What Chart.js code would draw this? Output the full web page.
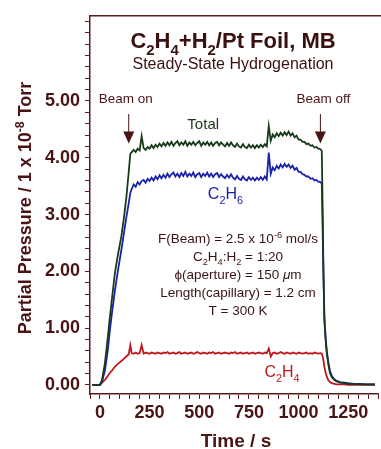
<!DOCTYPE html>
<html lang="en">
<head>
<meta charset="UTF-8">
<title>C2H4+H2/Pt Foil, MB</title>
<script src="https://cdn.jsdelivr.net/npm/chart.js"></script>
<style>
  html, body { margin: 0; padding: 0; background: #ffffff; }
  #wrap { width: 381px; height: 449px; }
</style>
</head>
<body>
<div id="wrap"><canvas id="chart" width="381" height="449"></canvas></div>
<script>
// time axis (s), shared by all three traces
const times = [
  -40, 0, 10, 25, 40, 50, 60, 75, 90, 108, 120, 133, 145, 153,
  160, 170, 180, 190, 200, 210, 220, 230, 240, 250,
  260, 270, 280, 290, 300, 310, 320, 330, 340, 350,
  360, 370, 380, 390, 400, 410, 420, 430, 440, 450,
  460, 470, 480, 490, 500, 510, 520, 530, 540, 550,
  560, 570, 580, 590, 600, 610, 620, 630, 640, 650,
  660, 670, 680, 690, 700, 710, 720, 730, 740, 750,
  760, 770, 780, 790, 800, 810, 820, 830, 840, 850,
  860, 870, 880, 890, 900, 910, 920, 930, 940, 950,
  960, 970, 980, 990, 1000, 1010, 1020, 1030, 1040, 1050,
  1060, 1070, 1080, 1090, 1100, 1110,
  1117, 1120, 1125, 1130, 1136, 1142, 1150, 1158, 1167, 1180, 1192, 1210, 1230, 1250, 1280, 1310, 1340, 1385
];

// Total (x 1e-8 Torr)
const total = [
  0.00, 0.00, 0.08, 0.38, 0.85, 1.19, 1.50, 1.96, 2.28, 2.62, 2.92, 3.30, 3.75, 4.07,
  4.10, 4.14, 4.10, 4.16, 4.13, 4.38, 4.17, 4.14, 4.19, 4.16,
  4.22, 4.17, 4.23, 4.19, 4.25, 4.20, 4.26, 4.21, 4.27, 4.22,
  4.28, 4.21, 4.26, 4.29, 4.22, 4.27, 4.23, 4.29, 4.21, 4.27,
  4.23, 4.28, 4.22, 4.26, 4.29, 4.21, 4.27, 4.23, 4.28, 4.22,
  4.27, 4.21, 4.26, 4.28, 4.22, 4.27, 4.23, 4.20, 4.26, 4.21,
  4.27, 4.22, 4.19, 4.25, 4.20, 4.18, 4.24, 4.19, 4.17, 4.23,
  4.18, 4.22, 4.17, 4.22, 4.18, 4.23, 4.19, 4.24, 4.20, 4.56,
  4.30, 4.41, 4.36, 4.43, 4.38, 4.44, 4.39, 4.45, 4.40, 4.46,
  4.39, 4.43, 4.36, 4.39, 4.32, 4.32, 4.28, 4.28, 4.24, 4.25,
  4.21, 4.22, 4.18, 4.19, 4.16, 4.15,
  4.12, 3.40, 2.10, 1.14, 0.80, 0.56, 0.36, 0.21, 0.14, 0.09, 0.06, 0.04, 0.03, 0.02, 0.02, 0.01, 0.01, 0.01
];

// C2H6
const ethane = [
  0.00, 0.00, 0.05, 0.25, 0.62, 0.96, 1.25, 1.65, 2.00, 2.38, 2.65, 2.95, 3.20, 3.38,
  3.45, 3.53, 3.49, 3.57, 3.53, 3.59, 3.61, 3.56, 3.63, 3.59,
  3.65, 3.60, 3.67, 3.62, 3.69, 3.64, 3.70, 3.65, 3.72, 3.66,
  3.71, 3.74, 3.67, 3.72, 3.66, 3.73, 3.68, 3.75, 3.67, 3.72,
  3.68, 3.74, 3.66, 3.71, 3.73, 3.66, 3.72, 3.68, 3.74, 3.67,
  3.72, 3.66, 3.71, 3.73, 3.66, 3.71, 3.67, 3.64, 3.70, 3.65,
  3.71, 3.65, 3.62, 3.68, 3.63, 3.61, 3.67, 3.62, 3.60, 3.66,
  3.61, 3.65, 3.60, 3.65, 3.61, 3.66, 3.61, 3.67, 3.62, 4.09,
  3.72, 3.83, 3.78, 3.86, 3.81, 3.88, 3.83, 3.89, 3.84, 3.88,
  3.82, 3.86, 3.79, 3.82, 3.75, 3.75, 3.71, 3.70, 3.67, 3.67,
  3.63, 3.64, 3.60, 3.61, 3.58, 3.57,
  3.55, 3.00, 2.00, 1.20, 0.85, 0.60, 0.40, 0.25, 0.16, 0.10, 0.07, 0.05, 0.04, 0.03, 0.02, 0.02, 0.01, 0.01
];

// C2H4
const ethylene = [
  0.00, 0.00, 0.04, 0.09, 0.16, 0.21, 0.25, 0.32, 0.37, 0.42, 0.46, 0.50, 0.54, 0.70,
  0.56, 0.55, 0.57, 0.55, 0.56, 0.70, 0.55, 0.57, 0.56, 0.55,
  0.57, 0.56, 0.55, 0.57, 0.56, 0.55, 0.57, 0.56, 0.58, 0.55,
  0.56, 0.57, 0.55, 0.56, 0.58, 0.55, 0.56, 0.57, 0.55, 0.56,
  0.57, 0.55, 0.56, 0.58, 0.56, 0.55, 0.57, 0.56, 0.55, 0.57,
  0.56, 0.58, 0.55, 0.56, 0.57, 0.55, 0.56, 0.57, 0.56, 0.55,
  0.57, 0.56, 0.58, 0.55, 0.56, 0.57, 0.55, 0.56, 0.57, 0.55,
  0.56, 0.57, 0.55, 0.56, 0.57, 0.56, 0.55, 0.57, 0.56, 0.64,
  0.50, 0.56, 0.57, 0.55, 0.56, 0.58, 0.56, 0.55, 0.57, 0.56,
  0.55, 0.57, 0.56, 0.55, 0.57, 0.56, 0.55, 0.56, 0.57, 0.55,
  0.56, 0.55, 0.57, 0.56, 0.55, 0.56,
  0.55, 0.52, 0.44, 0.32, 0.22, 0.15, 0.08, 0.05, 0.03, 0.02, 0.01, 0.01, 0.01, 0.00, 0.00, 0.00, 0.00, 0.00
];

const xTickLabels = [0, 250, 500, 750, 1000, 1250];
const yTickLabels = [0, 1, 2, 3, 4, 5];

const FONT = '"Liberation Sans", Arial, Helvetica, sans-serif';
const MAROON = '#4a1414';
const AXIS = '#5a1d1d';

// draw a line of text made of pieces; kind: 0 normal, 1 subscript, -1 superscript, 2 italic
function drawRich(ctx, segs, x, y, size, weight, color, align) {
  const fontFor = (k) => {
    const s = k === 1 || k === -1 ? size * 0.68 : size;
    return (k === 2 ? 'italic ' : '') + weight + ' ' + s + 'px ' + FONT;
  };
  let w = 0;
  segs.forEach(([t, k]) => { ctx.font = fontFor(k); w += ctx.measureText(t).width; });
  let cx = align === 'left' ? x : x - w / 2;
  ctx.fillStyle = color;
  ctx.textAlign = 'left';
  ctx.textBaseline = 'alphabetic';
  segs.forEach(([t, k]) => {
    ctx.font = fontFor(k);
    const dy = k === 1 ? size * 0.3 : (k === -1 ? -size * 0.4 : 0);
    ctx.fillText(t, cx, y + dy);
    cx += ctx.measureText(t).width;
  });
}

function arrow(ctx, x, yTop, yTip) {
  ctx.strokeStyle = MAROON;
  ctx.fillStyle = MAROON;
  ctx.lineWidth = 1;
  ctx.beginPath();
  ctx.moveTo(x, yTop);
  ctx.lineTo(x, yTip - 10);
  ctx.stroke();
  ctx.beginPath();
  ctx.moveTo(x - 5.5, yTip - 12);
  ctx.lineTo(x + 5.5, yTip - 12);
  ctx.lineTo(x, yTip);
  ctx.closePath();
  ctx.fill();
}

const annotations = {
  id: 'annotations',
  afterDraw(chart) {
    const ctx = chart.ctx;
    const xs = chart.scales.x, ys = chart.scales.y;
    const area = chart.chartArea;
    ctx.save();

    // top frame line
    ctx.strokeStyle = AXIS;
    ctx.lineWidth = 1.5;
    ctx.beginPath();
    ctx.moveTo(area.left, area.top);
    ctx.lineTo(chart.width, area.top);
    ctx.stroke();

    // titles
    drawRich(ctx, [['C', 0], ['2', 1], ['H', 0], ['4', 1], ['+H', 0], ['2', 1], ['/Pt Foil, MB', 0]],
      233, 48, 22, 'bold', '#3a1010');
    drawRich(ctx, [['Steady-State Hydrogenation', 0]], 233, 69, 16, 'normal', '#3a1010');

    // axis titles
    drawRich(ctx, [['Time / s', 0]], (area.left + area.right) / 2 + 2, 447, 19, 'bold', MAROON);
    ctx.save();
    ctx.translate(31, 208);
    ctx.rotate(-Math.PI / 2);
    drawRich(ctx, [['Partial Pressure / 1 x 10', 0], ['-8', -1], [' Torr', 0]], 0, 0, 18, 'bold', MAROON);
    ctx.restore();

    // beam markers
    drawRich(ctx, [['Beam on', 0]], xs.getPixelForValue(130), 103, 13.5, 'normal', MAROON);
    arrow(ctx, xs.getPixelForValue(145), ys.getPixelForValue(4.77), ys.getPixelForValue(4.25));
    drawRich(ctx, [['Beam off', 0]], xs.getPixelForValue(1125), 103, 13.5, 'normal', MAROON);
    arrow(ctx, xs.getPixelForValue(1110), ys.getPixelForValue(4.77), ys.getPixelForValue(4.25));

    // trace labels
    drawRich(ctx, [['Total', 0]], xs.getPixelForValue(520), ys.getPixelForValue(4.5), 15, 'normal', '#173a19');
    drawRich(ctx, [['C', 0], ['2', 1], ['H', 0], ['6', 1]], xs.getPixelForValue(632), ys.getPixelForValue(3.27), 16, 'normal', '#1c22a8');
    drawRich(ctx, [['C', 0], ['2', 1], ['H', 0], ['4', 1]], xs.getPixelForValue(917), ys.getPixelForValue(0.14), 16, 'normal', '#c0181c');

    // beam conditions
    const lines = [
      [['F(Beam) = 2.5 x 10', 0], ['-6', -1], [' mol/s', 0]],
      [['C', 0], ['2', 1], ['H', 0], ['4', 1], [':H', 0], ['2', 1], [' = 1:20', 0]],
      [['\u03d5(aperture) = 150 ', 0], ['\u03bc', 2], ['m', 0]],
      [['Length(capillary) = 1.2 cm', 0]],
      [['T = 300 K', 0]]
    ];
    lines.forEach((segs, i) => {
      drawRich(ctx, segs, 238, 243 + i * 18, 13.5, 'normal', '#3a1414');
    });
    ctx.restore();
  }
};

const series = (vals) => times.map((t, i) => ({ x: t, y: vals[i] }));

new Chart(document.getElementById('chart'), {
  type: 'line',
  data: {
    datasets: [
      { label: 'Total', data: series(total), borderColor: '#173a19', borderWidth: 1.8 },
      { label: 'C2H6', data: series(ethane), borderColor: '#1c22a8', borderWidth: 1.8 },
      { label: 'C2H4', data: series(ethylene), borderColor: '#c0181c', borderWidth: 1.8 }
    ]
  },
  options: {
    responsive: false,
    devicePixelRatio: 1,
    animation: false,
    elements: { point: { radius: 0 }, line: { tension: 0, fill: false } },
    layout: { padding: { top: 13, right: 1, left: 0, bottom: 0 } },
    plugins: { legend: { display: false }, tooltip: { enabled: false }, title: { display: false } },
    scales: {
      x: {
        type: 'linear',
        min: -50,
        max: 1400,
        afterFit: (s) => { s.height = 55; },
        border: { display: true, color: AXIS, width: 1.5 },
        grid: { drawOnChartArea: false, drawTicks: true, tickLength: 5, tickColor: AXIS, tickWidth: 1 },
        ticks: {
          stepSize: 50,
          autoSkip: false,
          maxRotation: 0,
          padding: 3,
          color: MAROON,
          font: { family: FONT, size: 18, weight: 'bold' },
          callback: (v) => xTickLabels.includes(v) ? String(v) : ''
        }
      },
      y: {
        type: 'linear',
        min: -0.16,
        max: 6.5,
        afterFit: (s) => { s.width = 90; },
        border: { display: true, color: AXIS, width: 1.5 },
        grid: { drawOnChartArea: false, drawTicks: true, tickLength: 5, tickColor: AXIS, tickWidth: 1 },
        ticks: {
          stepSize: 0.2,
          includeBounds: false,
          autoSkip: false,
          padding: 5,
          color: MAROON,
          font: { family: FONT, size: 18, weight: 'bold' },
          callback: (v) => yTickLabels.some(t => Math.abs(t - v) < 1e-6) ? v.toFixed(2) : ''
        }
      }
    }
  },
  plugins: [annotations]
});
</script>
</body>
</html>
